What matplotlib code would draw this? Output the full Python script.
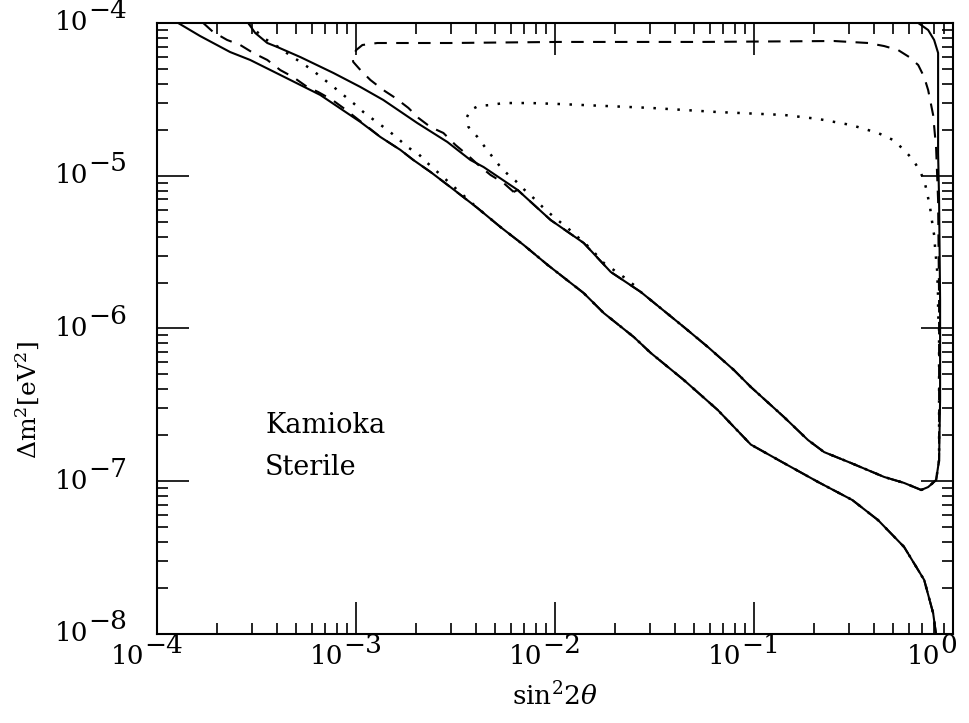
import numpy as np
import matplotlib
matplotlib.use("Agg")
import matplotlib.pyplot as plt

plt.rcParams['font.family'] = 'DejaVu Serif'
plt.rcParams['mathtext.fontset'] = 'dejavuserif'

# curves, stored as log10(sin^2 2theta), log10(dm^2)
# solid: lower edge of the band
a_lx = [-3.894, -3.784, -3.633, -3.532, -3.381, -3.180, -2.978, -2.878, -2.777, -2.712, -2.626,
        -2.526, -2.390, -2.274, -2.158, -2.037, -1.921, -1.856, -1.755, -1.604, -1.519, -1.353,
        -1.182, -1.016, -0.850, -0.678, -0.506, -0.377, -0.246, -0.145, -0.100, -0.080]
a_ly = [-4.000, -4.085, -4.190, -4.242, -4.340, -4.471, -4.648, -4.746, -4.831, -4.897, -4.975,
        -5.074, -5.211, -5.336, -5.453, -5.584, -5.702, -5.768, -5.899, -6.056, -6.160, -6.337,
        -6.534, -6.760, -6.881, -7.005, -7.123, -7.254, -7.430, -7.646, -7.863, -8.052]

# solid: upper edge, loop and the large angle side
b_lx = [-3.542, -3.507, -3.446, -3.396, -3.280, -3.114, -2.978, -2.863, -2.692, -2.541, -2.490,
        -2.425, -2.359, -2.188, -2.022, -1.856, -1.720, -1.569, -1.353, -1.232, -1.101, -1.016,
        -0.850, -0.729, -0.648, -0.512, -0.346, -0.246, -0.160, -0.125, -0.085, -0.070, -0.065,
        -0.065, -0.070, -0.075, -0.075, -0.075, -0.095, -0.125, -0.175, -0.210]
b_ly = [-4.000, -4.065, -4.131, -4.157, -4.223, -4.327, -4.419, -4.504, -4.655, -4.779, -4.831,
        -4.897, -4.943, -5.093, -5.290, -5.440, -5.630, -5.761, -5.990, -6.121, -6.272, -6.383,
        -6.579, -6.730, -6.809, -6.881, -6.972, -7.011, -7.057, -7.038, -6.992, -6.861, -6.468,
        -5.813, -5.159, -4.851, -4.419, -4.196, -4.111, -4.046, -4.000, -3.980]

# dashed: lower edge (joins the solid one further down)
c_lx = [-3.768, -3.718, -3.648, -3.582, -3.517, -3.446, -3.381, -3.316, -3.245, -3.190, -3.119,
        -3.064, -2.928]
c_ly = [-4.000, -4.059, -4.111, -4.144, -4.196, -4.242, -4.308, -4.354, -4.419, -4.452, -4.504,
        -4.556, -4.694]

# dashed: upper edge, hook, top line, right side
d_lx = [-2.208, -2.259, -2.324, -2.385, -2.440, -2.500, -2.561, -2.626, -2.686, -2.737, -2.802,
        -2.863, -2.928, -2.978, -3.014, -3.019, -2.999, -2.968, -2.893, -2.525, -1.982, -1.267,
        -0.598, -0.427, -0.346, -0.276, -0.220, -0.175, -0.145, -0.125, -0.100, -0.085, -0.075,
        -0.070, -0.070]
d_ly = [-5.106, -5.047, -4.995, -4.930, -4.864, -4.799, -4.720, -4.681, -4.622, -4.556, -4.491,
        -4.439, -4.373, -4.308, -4.255, -4.223, -4.177, -4.144, -4.131, -4.131, -4.124, -4.124,
        -4.118, -4.131, -4.151, -4.177, -4.223, -4.275, -4.354, -4.439, -4.602, -4.818, -5.159,
        -5.813, -6.861]

# dotted: lower edge
e_lx = [-3.540, -3.492, -3.456, -3.391, -3.341, -3.280, -3.220, -3.170, -3.119, -3.064, -3.014,
        -2.963, -2.903, -2.842, -2.792, -2.742, -2.686, -2.641, -2.591, -2.541, -2.485]
e_ly = [-4.000, -4.065, -4.105, -4.157, -4.203, -4.255, -4.308, -4.360, -4.412, -4.471, -4.524,
        -4.583, -4.642, -4.700, -4.753, -4.812, -4.858, -4.917, -4.975, -5.034, -5.100]

# dotted: upper edge, hook, top line, right side
f_lx = [-1.604, -1.655, -1.705, -1.755, -1.796, -1.841, -1.886, -1.937, -1.987, -2.012, -2.062,
        -2.108, -2.158, -2.198, -2.234, -2.274, -2.314, -2.349, -2.390, -2.435, -2.445, -2.425,
        -2.385, -2.324, -2.259, -2.123, -1.987, -1.519, -1.182, -0.850, -0.678, -0.512, -0.377,
        -0.301, -0.246, -0.200, -0.170, -0.145, -0.130, -0.115, -0.105, -0.095, -0.090, -0.080,
        -0.075, -0.075, -0.070, -0.070]
f_ly = [-5.715, -5.663, -5.617, -5.571, -5.512, -5.453, -5.401, -5.342, -5.290, -5.263, -5.205,
        -5.146, -5.087, -5.034, -4.995, -4.943, -4.877, -4.818, -4.746, -4.681, -4.622, -4.570,
        -4.543, -4.537, -4.524, -4.524, -4.530, -4.556, -4.583, -4.602, -4.628, -4.668, -4.720,
        -4.766, -4.831, -4.897, -4.962, -5.028, -5.113, -5.211, -5.303, -5.388, -5.473, -5.617,
        -5.794, -5.898, -6.010, -6.861]

x_decades = [-4, -3, -2, -1, 0]
y_decades = [-8, -7, -6, -5, -4]
label_lines = ["Kamioka", "Sterile"]

# join the pieces that run along the solid contour
dash_lo_x = c_lx + a_lx[7:]
dash_lo_y = c_ly + a_ly[7:]
dash_up_x = d_lx + b_lx[30:12:-1] + [d_lx[0]]
dash_up_y = d_ly + b_ly[30:12:-1] + [d_ly[0]]
dot_lo_x = e_lx + a_lx[12:]
dot_lo_y = e_ly + a_ly[12:]
dot_up_x = f_lx + b_lx[30:16:-1] + [f_lx[0]]
dot_up_y = f_ly + b_ly[30:16:-1] + [f_ly[0]]

fig = plt.figure(figsize=(9.7, 7.23), dpi=100)
ax = fig.add_axes([0.1619, 0.1231, 0.8206, 0.8451])
ax.set_xscale('log')
ax.set_yscale('log')
ax.set_xlim(1e-4, 1)
ax.set_ylim(1e-8, 1e-4)

lw = 1.5
p = lambda v: np.power(10.0, v)
ax.plot(p(a_lx), p(a_ly), color='k', lw=lw)
ax.plot(p(b_lx), p(b_ly), color='k', lw=lw)
ax.plot(p(dash_lo_x), p(dash_lo_y), color='k', lw=lw, dashes=(6, 4.5))
ax.plot(p(dash_up_x), p(dash_up_y), color='k', lw=lw, dashes=(6, 4.5))
ax.plot(p(dot_lo_x), p(dot_lo_y), color='k', lw=lw + 0.3, linestyle=(0, (1.0, 3.8)))
ax.plot(p(dot_up_x), p(dot_up_y), color='k', lw=lw + 0.3, linestyle=(0, (1.0, 3.8)))

ax.tick_params(which='both', direction='in', top=True, right=True,
               labelbottom=False, labelleft=False, width=1.2)
ax.tick_params(which='major', length=23)
ax.tick_params(which='minor', length=8)
for sp in ax.spines.values():
    sp.set_linewidth(1.5)

fs = 19
pt = 0.72  # points per pixel at 100 dpi
xt = ax.get_xaxis_transform()
yt = ax.get_yaxis_transform()
for k in x_decades:
    ax.annotate("10", xy=(p(k), 0), xycoords=xt, xytext=(-13 * pt, -23 * pt),
                textcoords='offset points', ha='right', va='center', fontsize=fs)
    ax.annotate(str(k).replace('-', '\u2212'), xy=(p(k), 0), xycoords=xt,
                xytext=(-13 * pt, -12 * pt), textcoords='offset points',
                ha='left', va='center', fontsize=fs)
for k in y_decades:
    ax.annotate("10", xy=(0, p(k)), xycoords=yt, xytext=(-69 * pt, 0),
                textcoords='offset points', ha='right', va='center', fontsize=fs)
    ax.annotate(str(k).replace('-', '\u2212'), xy=(0, p(k)), xycoords=yt,
                xytext=(-30 * pt, 12 * pt), textcoords='offset points',
                ha='right', va='center', fontsize=fs)

ax.text(0.1357, 0.329, label_lines[0], transform=ax.transAxes, fontsize=19.5, va='baseline')
ax.text(0.1357, 0.260, label_lines[1], transform=ax.transAxes, fontsize=19.5, va='baseline')

ax.text(0.5, -0.116, r"$\mathrm{sin}^{2}2\theta$", transform=ax.transAxes,
        fontsize=19, ha='center', va='baseline')
ax.text(-0.162, 0.383, r"$\Delta\mathrm{m}^{2}[\mathrm{eV}^{2}]$", transform=ax.transAxes,
        fontsize=18, ha='center', va='center', rotation=90)

fig.savefig("out.png", dpi=100)
